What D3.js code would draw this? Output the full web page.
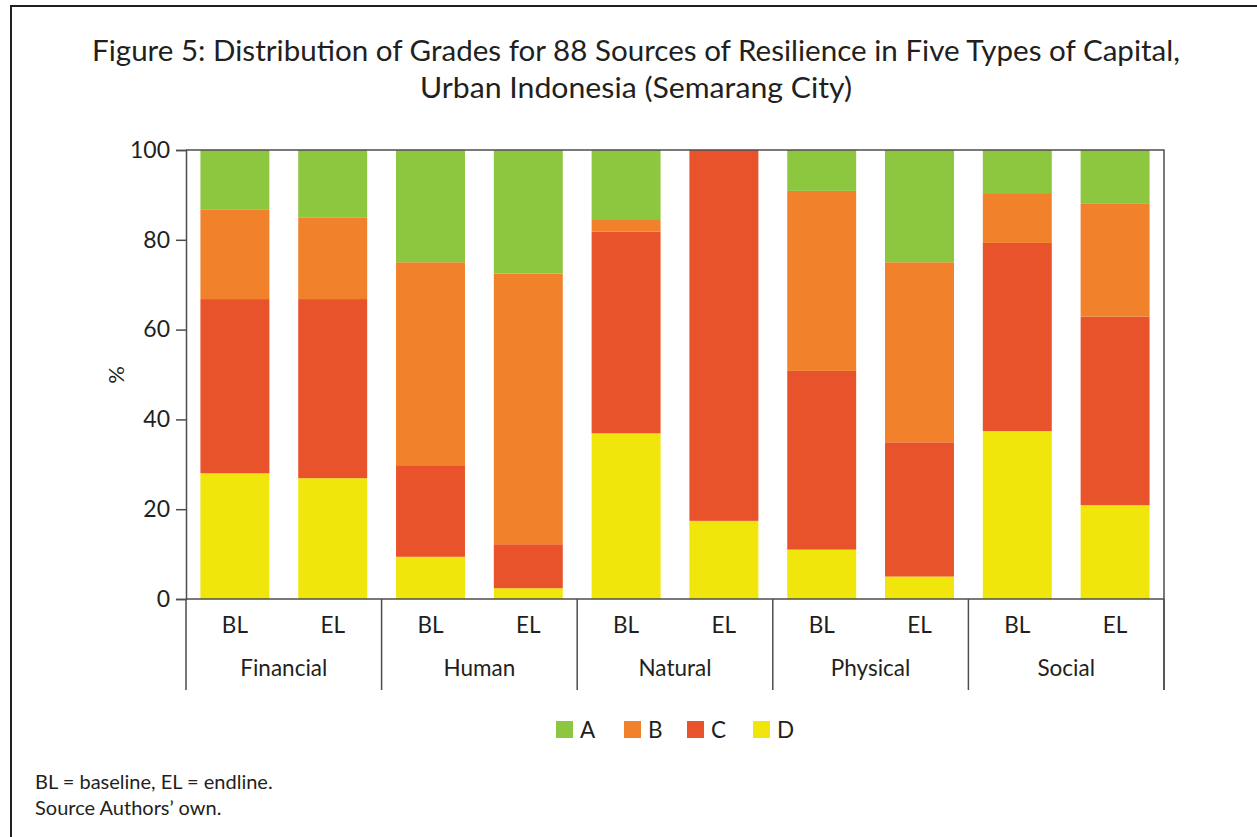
<!DOCTYPE html>
<html>
<head>
<style>
  body { margin: 0; background: #fff; }
  svg text { font-family: Lato, "Open Sans", sans-serif; fill: #231f20; }
</style>
</head>
<body>
<svg width="1257" height="837"></svg>
<script src="https://d3js.org/d3.v7.min.js"></script>
<script>
var groups = ["Financial", "Human", "Natural", "Physical", "Social"];
var periods = ["BL", "EL"];
var grades = ["A", "B", "C", "D"];
// values per bar, order: Financial BL, Financial EL, Human BL, ...
var gradeD = [28.0, 26.9, 9.4, 2.4, 36.9, 17.4, 11.0, 5.0, 37.4, 20.9];
var gradeC = [38.8, 39.9, 20.4, 9.8, 44.9, 82.6, 39.8, 29.9, 41.9, 42.0];
var gradeB = [20.0, 18.1, 45.2, 60.3, 2.6, 0, 40.1, 40.1, 11.1, 25.1];
var gradeA = [13.2, 15.1, 25.0, 27.5, 15.6, 0, 9.1, 25.0, 9.6, 12.0];
var colors = { A: "#8dc63f", B: "#f2812b", C: "#e9532b", D: "#f0e60c" };

var rows = [];
groups.forEach(function (g, i) {
    periods.forEach(function (p, j) {
        var k = i * 2 + j;
        rows.push({ group: g, period: p, A: gradeA[k], B: gradeB[k], C: gradeC[k], D: gradeD[k] });
    });
});

var svg = d3.select("svg");
var plotLeft = 186, plotRight = 1164, plotTop = 150, plotBottom = 599;

// frame
svg.append("path")
    .attr("d", "M11,837V6H1257")
    .attr("fill", "none")
    .attr("stroke", "#231f20")
    .attr("stroke-width", 2);

// title
svg.append("text").attr("x", 636).attr("y", 61).attr("text-anchor", "middle")
    .attr("font-size", 28).attr("textLength", 1088).attr("lengthAdjust", "spacingAndGlyphs")
    .text("Figure 5: Distribution of Grades for 88 Sources of Resilience in Five Types of Capital,");
svg.append("text").attr("x", 636).attr("y", 98).attr("text-anchor", "middle")
    .attr("font-size", 28).attr("textLength", 432).attr("lengthAdjust", "spacingAndGlyphs")
    .text("Urban Indonesia (Semarang City)");

var x0 = d3.scaleBand().domain(groups).range([plotLeft, plotRight]);
var x1 = d3.scaleBand().domain(periods).range([0, x0.bandwidth()])
    .paddingInner(0.295).paddingOuter(0.1475);
var y = d3.scaleLinear().domain([0, 100]).range([plotBottom, plotTop]);

var stack = d3.stack().keys(["D", "C", "B", "A"]);
var series = stack(rows);

svg.append("g").selectAll("g")
    .data(series)
    .join("g")
    .attr("fill", function (d) { return colors[d.key]; })
    .selectAll("rect")
    .data(function (d) { return d; })
    .join("rect")
    .attr("x", function (d) { return x0(d.data.group) + x1(d.data.period); })
    .attr("width", x1.bandwidth())
    .attr("y", function (d) { return y(d[1]); })
    .attr("height", function (d) { return y(d[0]) - y(d[1]); });

// plot border (top, right)
svg.append("path")
    .attr("d", "M" + plotLeft + "," + plotTop + "H" + plotRight + "V690")
    .attr("fill", "none").attr("stroke", "#4d4d4f").attr("stroke-width", 1.5);

// y axis
var yAxis = svg.append("g")
    .attr("transform", "translate(" + plotLeft + ",0)")
    .call(d3.axisLeft(y).tickValues([0, 20, 40, 60, 80, 100]).tickSize(10).tickPadding(6));
yAxis.select(".domain").attr("stroke", "#4d4d4f").attr("stroke-width", 1.5);
yAxis.selectAll(".tick line").attr("stroke", "#4d4d4f").attr("stroke-width", 1.5);
yAxis.selectAll(".tick text").attr("font-size", 23).attr("font-family", "Lato, sans-serif").attr("fill", "#231f20");

svg.append("text")
    .attr("transform", "translate(124,375) rotate(-90)")
    .attr("text-anchor", "middle").attr("font-size", 22).text("%");

// x axis baseline and group separators
svg.append("line").attr("x1", plotLeft).attr("x2", plotRight).attr("y1", plotBottom).attr("y2", plotBottom)
    .attr("stroke", "#4d4d4f").attr("stroke-width", 1.5);
var seps = groups.map(function (g) { return x0(g); }).concat([plotRight]);
svg.append("g").selectAll("line").data(seps).join("line")
    .attr("x1", function (d) { return d; }).attr("x2", function (d) { return d; })
    .attr("y1", plotBottom).attr("y2", 690)
    .attr("stroke", "#4d4d4f").attr("stroke-width", 1.5);

svg.append("g").selectAll("text").data(rows).join("text")
    .attr("x", function (d) { return x0(d.group) + x1(d.period) + x1.bandwidth() / 2; })
    .attr("y", 633).attr("text-anchor", "middle").attr("font-size", 22.5)
    .text(function (d) { return d.period; });

svg.append("g").selectAll("text").data(groups).join("text")
    .attr("x", function (d) { return x0(d) + x0.bandwidth() / 2; })
    .attr("y", 676).attr("text-anchor", "middle").attr("font-size", 22.5)
    .text(function (d) { return d; });

// legend
var legendX = [556, 624, 687, 753];
var legend = svg.append("g").selectAll("g").data(grades).join("g")
    .attr("transform", function (d, i) { return "translate(" + legendX[i] + ",721)"; });
legend.append("rect").attr("width", 17).attr("height", 17)
    .attr("fill", function (d) { return colors[d]; });
legend.append("text").attr("x", 24).attr("y", 17).attr("font-size", 22.5)
    .text(function (d) { return d; });

// notes
svg.append("text").attr("x", 35).attr("y", 789).attr("font-size", 20).text("BL = baseline, EL = endline.");
svg.append("text").attr("x", 35).attr("y", 815).attr("font-size", 20).text("Source Authors\u2019 own.");
</script>
</body>
</html>
